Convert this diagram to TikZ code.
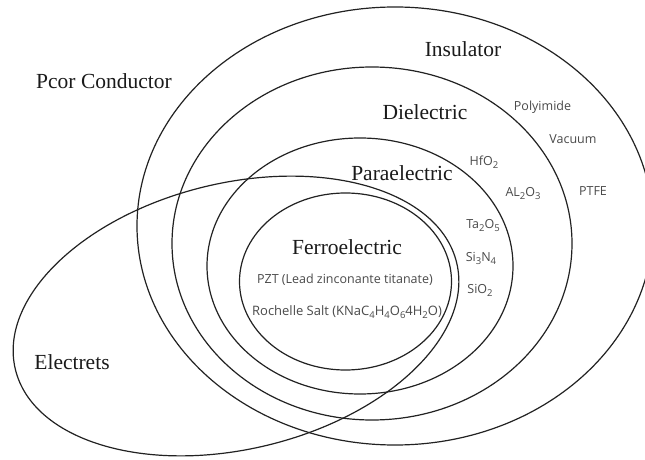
\documentclass[tikz,border=0pt]{standalone}
\usepackage{fontspec}
\setmainfont{Liberation Serif}
\newfontfamily\labelsans{Open Sans}
\usetikzlibrary{shapes.geometric}
\definecolor{linec}{HTML}{222222}
\definecolor{serifc}{HTML}{1A1A1A}
\definecolor{sansc}{HTML}{4A4A4A}
\newcommand\lowsub[1]{\raisebox{-0.45ex}{\fontsize{9.5bp}{10bp}\selectfont #1}}
\tikzset{
  setring/.style={ellipse, draw=linec, line width=1.2bp, inner sep=0pt},
  bigtext/.style={font=\fontsize{21.5bp}{24bp}\selectfont, text=serifc, inner sep=0pt},
  smalltext/.style={font=\labelsans\fontsize{12.5bp}{14bp}\selectfont, text=sansc, inner sep=0pt},
}
\begin{document}
\begin{tikzpicture}[x=1bp,y=-1bp]
\useasboundingbox[fill=white] (0,0) rectangle (645,460);
\clip (0,0) rectangle (645,460);
% sets
\node[setring, minimum width=516bp, minimum height=438bp] (insulator) at (395,226) {};
\node[setring, minimum width=400bp, minimum height=353bp] (dielectric) at (372,243.5) {};
\node[setring, minimum width=306bp, minimum height=256bp] (paraelectric) at (360,266) {};
\node[setring, minimum width=212bp, minimum height=177bp] (ferroelectric) at (345.5,281.5) {};
\node[setring, minimum width=454bp, minimum height=266bp, rotate=13.6] (electrets) at (236,316) {};
% big labels
\node[bigtext] (tins) at (463,49) {Insulator};
\node[bigtext] (tpoor) at (104,81) {Pcor Conductor};
\node[bigtext] (tdie) at (425,112) {Dielectric};
\node[bigtext] (tpara) at (402,173) {Paraelectric};
\node[bigtext] (tferro) at (347,247) {Ferroelectric};
\node[bigtext] (telec) at (72,362) {Electrets};
% small labels
\node[smalltext] (tpoly) at (542.5,107) {Polyimide};
\node[smalltext] (tvac) at (573,139) {Vacuum};
\node[smalltext] (tptfe) at (593,191) {PTFE};
\node[smalltext] (thf) at (484,162) {HfO\lowsub{2}};
\node[smalltext] (tal) at (523,194) {AL\lowsub{2}O\lowsub{3}};
\node[smalltext] (tta) at (483,226) {Ta\lowsub{2}O\lowsub{5}};
\node[smalltext] (tsin) at (481,258) {Si\lowsub{3}N\lowsub{4}};
\node[smalltext] (tsio) at (480,290) {SiO\lowsub{2}};
\node[smalltext] (tpzt) at (345,280) {PZT (Lead zinconante titanate)};
\node[smalltext, font=\labelsans\fontsize{13bp}{14bp}\selectfont] (troch) at (347,312) {Rochelle Salt (KNaC\lowsub{4}H\lowsub{4}O\lowsub{6}4H\lowsub{2}O)};
\end{tikzpicture}
\end{document}
